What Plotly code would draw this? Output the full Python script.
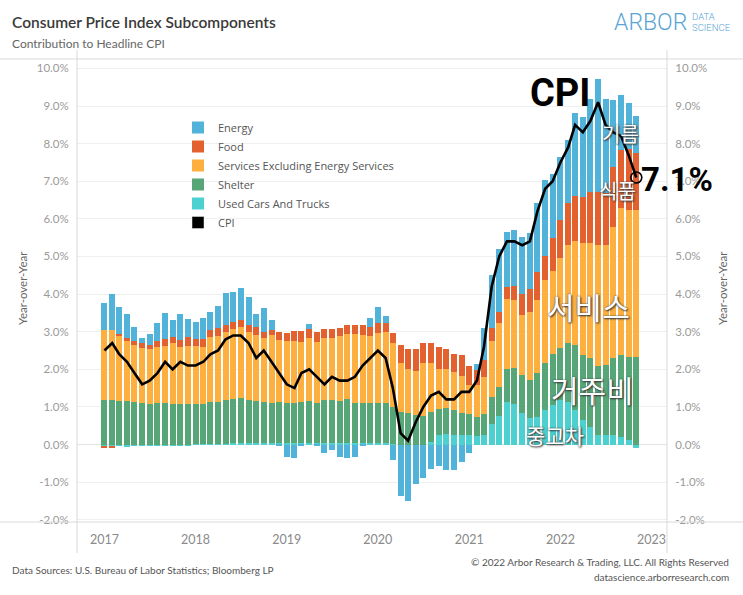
import plotly.graph_objects as go
import pandas as pd

# ---------------- data (contribution to headline CPI, % pts) ----------------
months = pd.date_range("2017-01-01", "2022-11-01", freq="MS")

used_cars = [
    -0.06, -0.06, -0.05, -0.06, -0.05, -0.05, -0.04, -0.04, -0.03, -0.03, -0.02, -0.02,
    0.02, 0.02, 0.02, 0.02, 0.02, 0.03, 0.03, 0.03, 0.03, 0.03, 0.03, 0.03,
    0.03, 0.03, 0.03, 0.03, 0.03, 0.03, 0.03, 0.03, 0.03, 0.03, 0.03, 0.03,
    0.03, 0.03, 0.02, -0.01, -0.01, -0.02, -0.02, 0.08, 0.25, 0.28, 0.25, 0.25,
    0.25, 0.23, 0.25, 0.55, 0.76, 1.14, 1.09, 0.83, 0.70, 0.74, 0.92, 1.05,
    1.18, 1.14, 0.92, 0.65, 0.47, 0.25, 0.25, 0.25, 0.21, 0.12, -0.10,
]
shelter = [
    1.18, 1.18, 1.17, 1.16, 1.13, 1.10, 1.07, 1.10, 1.10, 1.09, 1.08, 1.09,
    1.06, 1.05, 1.10, 1.12, 1.16, 1.17, 1.20, 1.15, 1.14, 1.09, 1.07, 1.11,
    1.07, 1.08, 1.10, 1.13, 1.08, 1.15, 1.15, 1.13, 1.18, 1.08, 1.08, 1.07,
    1.08, 1.08, 0.99, 0.87, 0.85, 0.78, 0.76, 0.79, 0.69, 0.68, 0.67, 0.60,
    0.55, 0.51, 0.56, 0.72, 0.76, 0.86, 0.94, 1.02, 1.01, 1.17, 1.24, 1.37,
    1.38, 1.55, 1.73, 1.73, 1.82, 1.84, 1.86, 2.04, 2.17, 2.22, 2.32,
]
services = [
    1.87, 1.87, 1.72, 1.60, 1.52, 1.47, 1.46, 1.50, 1.52, 1.60, 1.52, 1.54,
    1.54, 1.53, 1.75, 1.75, 1.82, 1.87, 1.89, 1.82, 1.74, 1.70, 1.80, 1.64,
    1.65, 1.65, 1.60, 1.66, 1.62, 1.64, 1.66, 1.73, 1.73, 1.83, 1.80, 1.79,
    1.86, 1.87, 1.70, 1.31, 1.16, 1.17, 1.42, 1.31, 1.06, 1.04, 1.02, 0.97,
    0.78, 0.84, 0.99, 1.49, 1.72, 1.86, 1.81, 1.59, 1.82, 1.93, 2.22, 2.20,
    2.39, 2.62, 2.75, 2.97, 3.06, 3.22, 3.20, 3.50, 3.90, 3.90, 3.92,
]
food = [
    -0.03, -0.03, 0.05, 0.08, 0.11, 0.12, 0.12, 0.16, 0.18, 0.16, 0.18, 0.22,
    0.18, 0.21, 0.18, 0.22, 0.18, 0.18, 0.18, 0.18, 0.21, 0.18, 0.15, 0.22,
    0.22, 0.26, 0.29, 0.24, 0.25, 0.25, 0.23, 0.20, 0.23, 0.23, 0.26, 0.23,
    0.25, 0.24, 0.25, 0.47, 0.53, 0.59, 0.51, 0.53, 0.60, 0.53, 0.48, 0.55,
    0.51, 0.40, 0.46, 0.33, 0.29, 0.34, 0.38, 0.55, 0.60, 0.76, 0.64, 0.88,
    1.02, 1.10, 1.20, 1.24, 1.37, 1.41, 1.37, 1.60, 1.55, 1.61, 1.50,
]
energy = [
    0.70, 0.95, 0.71, 0.64, 0.37, 0.15, 0.28, 0.46, 0.71, 0.46, 0.68, 0.48,
    0.47, 0.55, 0.48, 0.57, 0.86, 0.81, 0.87, 0.75, 0.34, 0.64, 0.26, -0.02,
    -0.34, -0.37, -0.03, 0.15, -0.04, -0.23, -0.15, -0.32, -0.36, -0.32, -0.04, 0.24,
    0.43, 0.20, -0.41, -1.37, -1.49, -1.02, -0.87, -0.66, -0.56, -0.68, -0.68, -0.46,
    -0.22, 0.15, 0.85, 1.42, 1.67, 1.46, 1.49, 1.54, 1.50, 1.81, 2.02, 1.69,
    1.68, 1.69, 2.22, 2.11, 2.46, 2.99, 2.50, 1.76, 1.47, 1.22, 1.00,
]
cpi = [
    2.5, 2.7, 2.4, 2.2, 1.9, 1.6, 1.7, 1.9, 2.2, 2.0, 2.2, 2.1,
    2.1, 2.2, 2.4, 2.5, 2.8, 2.9, 2.9, 2.7, 2.3, 2.5, 2.2, 1.9,
    1.6, 1.5, 1.9, 2.0, 1.8, 1.6, 1.8, 1.7, 1.7, 1.8, 2.1, 2.3,
    2.5, 2.3, 1.5, 0.3, 0.1, 0.6, 1.0, 1.3, 1.4, 1.2, 1.2, 1.4,
    1.4, 1.7, 2.6, 4.2, 5.0, 5.4, 5.4, 5.3, 5.4, 6.2, 6.8, 7.0,
    7.5, 7.9, 8.5, 8.3, 8.6, 9.1, 8.5, 8.3, 8.2, 7.7, 7.1,
]

years = [2017, 2018, 2019, 2020, 2021, 2022, 2023]
y_ticks = [-2, -1, 0, 1, 2, 3, 4, 5, 6, 7, 8, 9, 10]
y_tick_labels = ["-2.0%", "-1.0%", "0.0%", "1.0%", "2.0%", "3.0%", "4.0%",
                 "5.0%", "6.0%", "7.0%", "8.0%", "9.0%", "10.0%"]

# ---------------- styling ----------------
C_ENERGY = "#52b3da"
C_FOOD = "#e2612f"
C_SERV = "#fdb03f"
C_SHELTER = "#57a678"
C_USED = "#4dd0d0"
BASE_FONT = "Lato, 'Open Sans', 'Noto Sans', sans-serif"
LEG_FONT = "'Open Sans', Lato, sans-serif"
BOLD_NARROW = "Roboto, 'Noto Sans', sans-serif"
KR = "'Noto Sans CJK KR', sans-serif"

W, H = 743, 595
L, R, T, B = 77, 667, 59, 522


def px(x):
    return (x - L) / (R - L)


def py(y):
    return (B - y) / (B - T)


bar_w = 24 * 86400000  # ms

fig = go.Figure()
series = [
    ("Used Cars And Trucks", used_cars, C_USED, 5),
    ("Shelter", shelter, C_SHELTER, 4),
    ("Services Excluding Energy Services", services, C_SERV, 3),
    ("Food", food, C_FOOD, 2),
    ("Energy", energy, C_ENERGY, 1),
]
for name, vals, col, rank in series:
    fig.add_trace(go.Bar(
        x=months, y=vals, name=name, width=bar_w,
        marker=dict(color=col, line=dict(width=0)),
        legendrank=rank, hoverinfo="skip",
    ))

fig.add_trace(go.Scatter(
    x=months, y=cpi, mode="lines", name="CPI",
    line=dict(color="black", width=2.6), showlegend=False, yaxis="y2",
))
fig.add_trace(go.Scatter(
    x=months[-1:], y=cpi[-1:], mode="markers", showlegend=False, yaxis="y2",
    marker=dict(symbol="circle-open", size=11, color="black", line=dict(width=1.6)),
))
# legend swatch for CPI
fig.add_trace(go.Bar(x=[None], y=[None], name="CPI", marker=dict(color="black"), legendrank=6))

axis_common = dict(
    range=[-2.06, 10.25], tickvals=y_ticks, ticktext=y_tick_labels,
    tickfont=dict(size=11.5, color="#9a9a9a", family=BASE_FONT),
    ticks="outside", ticklen=5, tickcolor="rgba(0,0,0,0)",
    showline=False, fixedrange=True,
)

fig.update_layout(
    width=W, height=H,
    margin=dict(l=L, r=W - R, t=T, b=H - B, autoexpand=False),
    paper_bgcolor="white", plot_bgcolor="white",
    barmode="relative", bargap=0,
    font=dict(family=BASE_FONT, color="#555"),
    legend=dict(
        x=px(178), y=py(113), xanchor="left", yanchor="top",
        bgcolor="rgba(0,0,0,0)", traceorder="normal",
        font=dict(size=11, color="#555", family=LEG_FONT),
        itemclick=False, tracegroupgap=0,
    ),
    xaxis=dict(
        type="date", range=["2016-09-13", "2023-03-04"],
        tickvals=[f"{y}-01-01" for y in years], ticktext=[str(y) for y in years],
        showgrid=False, zeroline=False, showline=False,
        tickfont=dict(size=12.5, color="#8a8a8a", family=BASE_FONT),
        ticks="outside", ticklen=6, tickcolor="rgba(0,0,0,0)", fixedrange=True,
    ),
    yaxis=dict(
        **axis_common, side="left", showgrid=True, gridcolor="#efefef",
        zeroline=True, zerolinecolor="#e2e2e2", zerolinewidth=1,
    ),
    yaxis2=dict(
        **axis_common, side="right", overlaying="y", showgrid=False, zeroline=False,
    ),
)

lines = dict(color="#d9d9d9", width=1)
fig.add_shape(type="line", xref="paper", yref="paper", x0=px(0), x1=px(W), y0=1, y1=1, line=lines)
fig.add_shape(type="line", xref="paper", yref="paper", x0=px(0), x1=px(W), y0=0, y1=0, line=lines)
fig.add_shape(type="line", xref="paper", yref="paper", x0=0, x1=0, y0=py(553), y1=py(50), line=lines)
fig.add_shape(type="line", xref="paper", yref="paper", x0=1, x1=1, y0=py(553), y1=py(50), line=lines)

ann = []


def text(x, y, s, size, color="#555", xanchor="left", family=BASE_FONT, weight=None, angle=0, shadow=None):
    f = dict(size=size, color=color, family=family)
    if weight:
        f["weight"] = weight
    if shadow:
        f["shadow"] = shadow
    ann.append(dict(x=px(x), y=py(y), xref="paper", yref="paper", text=s, showarrow=False,
                    xanchor=xanchor, yanchor="middle", font=f, textangle=angle))


# header
text(10, 22, "Consumer Price Index Subcomponents", 15.5, "#3a3a3a", weight=600)
text(10, 43, "Contribution to Headline CPI", 12, "#666")
text(612, 23, "ARBOR", 23, "#5aa5d5", family="Roboto", weight=300)
text(690, 17, "DATA", 9.5, "#5aa5d5", family="Roboto", weight=300)
text(690, 28, "SCIENCE", 9.5, "#5aa5d5", family="Roboto", weight=300)

# axis titles
text(22, 288, "Year-over-Year", 11.5, "#666", xanchor="center", angle=-90)
text(722, 288, "Year-over-Year", 11.5, "#666", xanchor="center", angle=-90)

# footer
text(10, 570, "Data Sources: U.S. Bureau of Labor Statistics; Bloomberg LP", 10, "#555")
text(731, 562, "© 2022 Arbor Research & Trading, LLC. All Rights Reserved", 10, "#555", xanchor="right")
text(731, 577, "datascience.arborresearch.com", 10, "#555", xanchor="right")

# in-chart annotations
text(560, 93, "CPI", 38, "black", xanchor="center", family=BOLD_NARROW, weight=700)
text(677, 179, "7.1%", 33, "black", xanchor="center", family=BOLD_NARROW, weight=700)
sh = "0px 0px 2px #444, 1px 1px 2px #333"
text(620, 133, "기름", 20, "white", xanchor="center", family=KR, shadow=sh)
text(617, 190, "식품", 20, "white", xanchor="center", family=KR, shadow=sh)
text(588, 306, "서비스", 30, "white", xanchor="center", family=KR, shadow=sh)
text(592, 389, "거주비", 30, "white", xanchor="center", family=KR, shadow=sh)
text(555, 435, "중고차", 21, "white", xanchor="center", family=KR, shadow=sh)

fig.update_layout(annotations=ann)

fig.write_html("out.html")
